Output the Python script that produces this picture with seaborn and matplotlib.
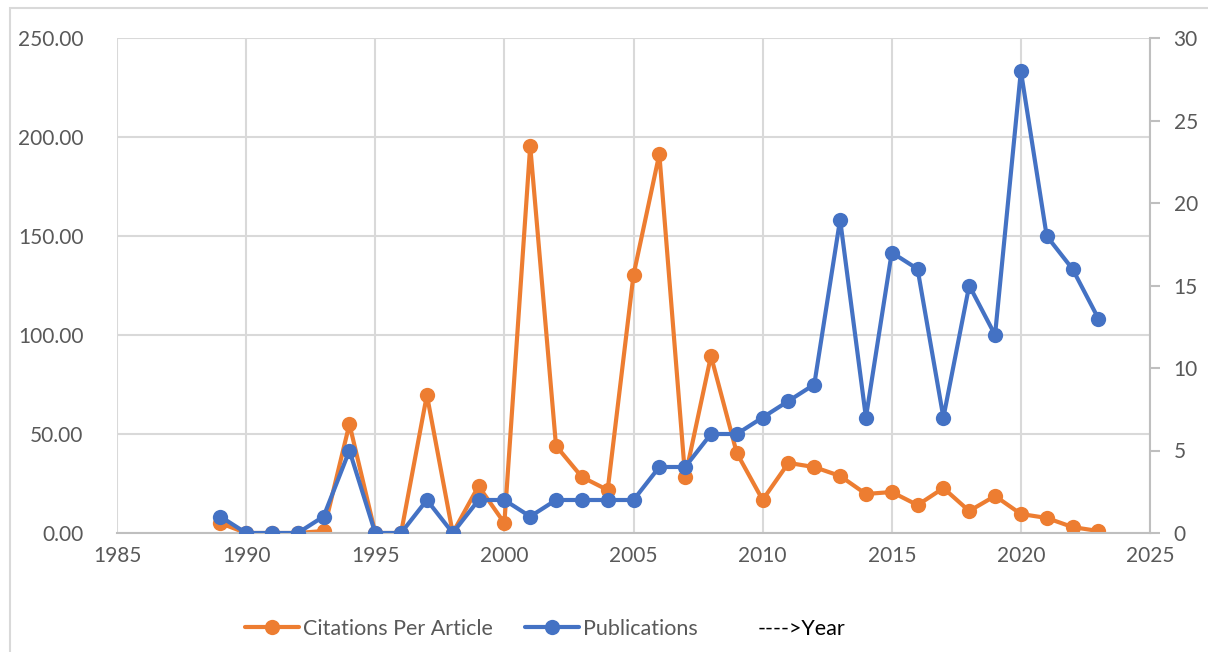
import matplotlib
matplotlib.use("Agg")
import matplotlib.pyplot as plt
from matplotlib.lines import Line2D
from matplotlib.patches import Rectangle
import seaborn as sns
import pandas as pd

years = list(range(1989, 2024))
citations_per_article = [5.0, 0, 0, 0, 1.0, 55.0, 0, 0, 69.7, 0, 23.7, 5.0,
                         195.5, 44.0, 28.3, 21.7, 130.3, 191.4, 28.3, 89.4, 40.4,
                         16.7, 35.4, 33.3, 28.8, 19.7, 20.7, 14.1, 22.7, 11.1,
                         18.7, 9.6, 7.6, 3.0, 1.0]
publications = [1, 0, 0, 0, 1, 5, 0, 0, 2, 0, 2, 2, 1, 2, 2, 2, 2, 4, 4, 6, 6,
                7, 8, 9, 19, 7, 17, 16, 7, 15, 12, 28, 18, 16, 13]
left_ticks = [0, 50, 100, 150, 200, 250]
right_ticks = [0, 5, 10, 15, 20, 25, 30]
year_ticks = [1985, 1990, 1995, 2000, 2005, 2010, 2015, 2020, 2025]

df = pd.DataFrame({"Year": years,
                   "Citations Per Article": citations_per_article,
                   "Publications": publications})

sns.set_theme(style="white")
plt.rcParams["font.family"] = ["Lato", "DejaVu Sans"]

ORANGE = "#ED7D31"
BLUE = "#4472C4"
GRID = "#D9D9D9"
TXT = "#595959"
LW = 3.0
MS = 11

fig = plt.figure(figsize=(12.08, 6.52), dpi=100)
ax = fig.add_axes([117 / 1208, 1 - 533 / 652, (1150 - 117) / 1208, (533 - 38) / 652])
ax2 = ax.twinx()

sns.lineplot(data=df, x="Year", y="Citations Per Article", ax=ax, color=ORANGE,
             marker="o", markersize=MS, markeredgewidth=0, linewidth=LW)
sns.lineplot(data=df, x="Year", y="Publications", ax=ax2, color=BLUE,
             marker="o", markersize=MS, markeredgewidth=0, linewidth=LW)

ax.set_xlim(1985, 2025)
ax.set_ylim(0, 250)
ax2.set_ylim(0, 30)
ax.set_xticks(year_ticks)
ax.set_yticks(left_ticks)
ax2.set_yticks(right_ticks)
ax.set_yticklabels([f"{v:.2f}" for v in left_ticks])
ax2.set_yticklabels([str(v) for v in right_ticks])
ax.set_xlabel("")
ax.set_ylabel("")
ax2.set_ylabel("")

ax.grid(True, color=GRID, linewidth=1.5)
ax.set_axisbelow(True)
for a in (ax, ax2):
    for s in a.spines.values():
        s.set_visible(False)
ax.spines["bottom"].set_visible(True)
ax.spines["bottom"].set_color("#BFBFBF")
ax.spines["bottom"].set_linewidth(1.5)
ax2.spines["right"].set_visible(True)
ax2.spines["right"].set_color("#BFBFBF")
ax2.spines["right"].set_linewidth(1.5)

ax.tick_params(axis="both", length=0, labelsize=15, labelcolor=TXT)
ax.tick_params(axis="y", pad=24)
ax.tick_params(axis="x", pad=9)
ax2.tick_params(axis="y", length=7, width=1.5, color="#BFBFBF",
                labelsize=15, labelcolor=TXT, pad=10)

# Chart-area border
fig.patches.append(Rectangle((10 / 1208, -0.05), 1.2, 1 - 8 / 652 + 0.05,
                             transform=fig.transFigure, fill=False,
                             edgecolor=GRID, linewidth=1.5))

handles = [
    Line2D([], [], color=ORANGE, marker="o", markersize=MS, linewidth=LW, markeredgewidth=0),
    Line2D([], [], color=BLUE, marker="o", markersize=MS, linewidth=LW, markeredgewidth=0),
]
leg = fig.legend(handles, ["Citations Per Article", "Publications"],
                 loc="center left", bbox_to_anchor=(234 / 1208, 1 - 629 / 652),
                 ncol=2, frameon=False, fontsize=15.5, handlelength=2.5,
                 columnspacing=1.5, handletextpad=0.2, borderpad=0)
for t in leg.get_texts():
    t.set_color(TXT)
fig.text(758 / 1208, 1 - 629 / 652, "---->Year", fontsize=15.5, color="black",
         ha="left", va="center")

fig.savefig("out.png", dpi=100)
